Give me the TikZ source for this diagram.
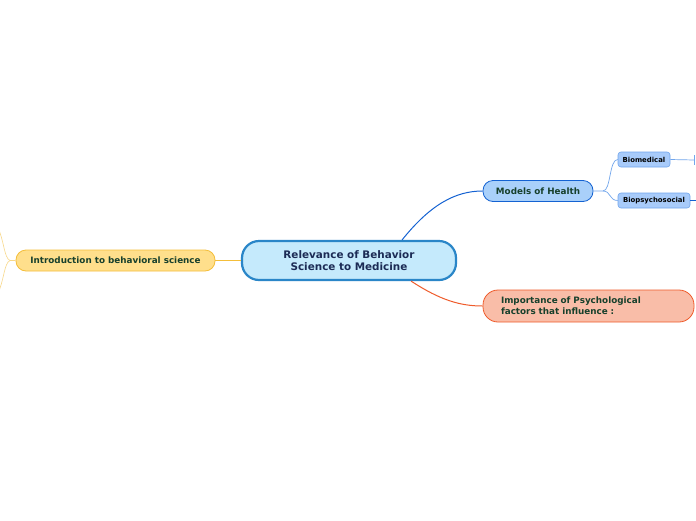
\documentclass[tikz,border=0pt]{standalone}
\usepackage{fontspec}
\setmainfont{DejaVu Sans}
\usetikzlibrary{positioning}
\definecolor{centralFill}{HTML}{C5EAFC}
\definecolor{centralLine}{HTML}{2A86C8}
\definecolor{centralText}{HTML}{1C2B55}
\definecolor{introFill}{HTML}{FFDF8C}
\definecolor{introLine}{HTML}{F4BE3A}
\definecolor{modelFill}{HTML}{A9D0FA}
\definecolor{modelLine}{HTML}{1462D2}
\definecolor{subFill}{HTML}{A8CBFA}
\definecolor{subLine}{HTML}{72A6EC}
\definecolor{impFill}{HTML}{F9BDA8}
\definecolor{impLine}{HTML}{EF5B2B}
\definecolor{nodeText}{HTML}{17402C}

\begin{document}
\begin{tikzpicture}[
    x=1pt, y=-1pt,
    central/.style={rectangle, rounded corners=17pt, minimum width=214pt, minimum height=39pt,
                    align=center, font=\bfseries\fontsize{10.4}{12.5}\selectfont, text=centralText,
                    fill=centralFill, draw=centralLine, line width=2.2pt},
    topic/.style={rectangle, rounded corners=10pt, minimum height=21pt, inner xsep=0pt,
                  font=\bfseries\fontsize{8.8}{11}\selectfont, text=nodeText, line width=0.8pt},
    subtopic/.style={rectangle, rounded corners=3pt, minimum height=15pt, inner xsep=0pt,
                     font=\bfseries\fontsize{6.9}{8}\selectfont, text=black,
                     fill=subFill, draw=subLine, line width=0.6pt},
    branch/.style={line width=1pt},
    twig/.style={line width=0.7pt, color=subLine}
]

\useasboundingbox (0,0) rectangle (696,520);
\clip (0,0) rectangle (696,520);
\fill[white] (0,0) rectangle (696,520);

\node[central] (root) at (349,260.5) {Relevance of Behavior\\ Science to Medicine};
\node[topic, fill=introFill, draw=introLine, minimum width=199pt] (intro) at (115.5,260.5)
    {Introduction to behavioral science};
\node[topic, fill=modelFill, draw=modelLine, minimum width=110pt] (models) at (538,191)
    {Models of Health};
\node[topic, fill=impFill, draw=impLine, minimum width=211pt, minimum height=32pt,
      rounded corners=15pt, align=left, text width=175pt, inner xsep=18pt] (importance) at (588.5,306)
    {Importance of Psychological\\factors that influence :};
\node[subtopic, minimum width=52pt] (biomed) at (644,159.5) {Biomedical};
\node[subtopic, minimum width=72pt] (biopsy) at (654,200.5) {Biopsychosocial};

% ends of branches leaving the page
\coordinate (introUp) at (-2,228);
\coordinate (introDown) at (-2,293);
\coordinate (biomedEnd) at (694.5,160);
\coordinate (biopsyEnd) at (698,200.5);

\draw[branch, modelLine] (root.north east) ++(-55,0) coordinate (rootTop)
    .. controls (430,205) and (455,191) .. (models.west);
\draw[branch, impLine] (root.south east) ++(-46,0) coordinate (rootBottom)
    .. controls (440,300) and (460,306) .. (importance.west);
\draw[branch, introLine] (root.west) -- (intro.east);
\draw[line width=0.6pt, introLine!60] (intro.west) -- (10,260.5)
    .. controls (4,258) and (4,240) .. (introUp);
\draw[line width=0.6pt, introLine!60] (10,260.5)
    .. controls (4,263) and (4,281) .. (introDown);
\draw[twig] (models.east) -- (603,191) .. controls (611,191) and (609,159.5) .. (biomed.west);
\draw[twig] (603,191) .. controls (611,191) and (609,200.5) .. (biopsy.west);
\draw[twig] (biomed.east) -- (biomedEnd);
\draw[twig] (biomedEnd) ++(0,-5) -- ++(0,10);
\draw[twig, modelLine] (biopsy.east) -- (biopsyEnd);

\end{tikzpicture}
\end{document}
